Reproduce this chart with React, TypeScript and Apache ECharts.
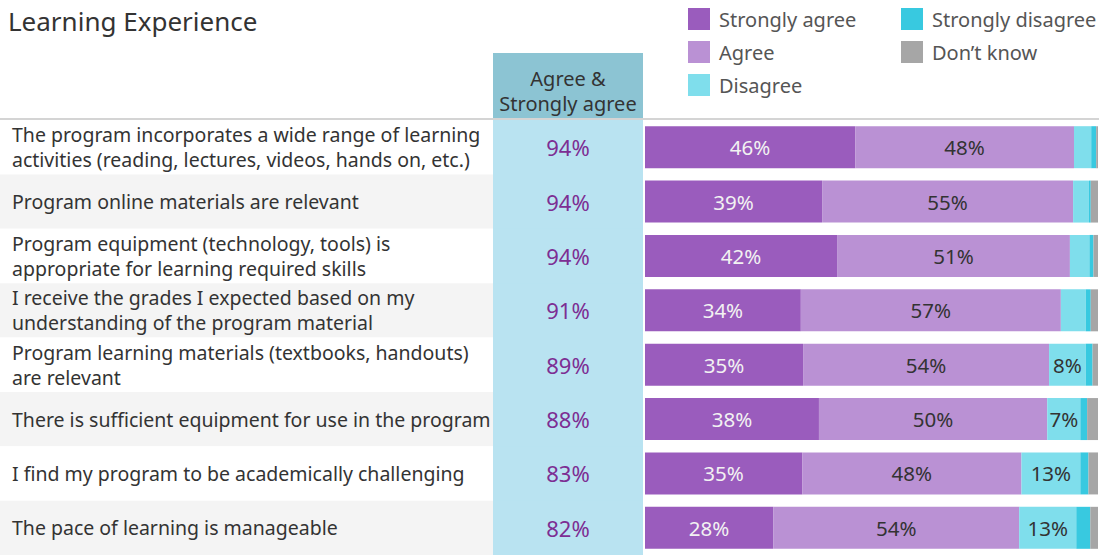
import React, { useEffect, useRef } from "react";
import * as echarts from "echarts";

const questions = [
  "The program incorporates a wide range of learning\nactivities (reading, lectures, videos, hands on, etc.)",
  "Program online materials are relevant",
  "Program equipment (technology, tools) is\nappropriate for learning required skills",
  "I receive the grades I expected based on my\nunderstanding of the program material",
  "Program learning materials (textbooks, handouts)\nare relevant",
  "There is sufficient equipment for use in the program",
  "I find my program to be academically challenging",
  "The pace of learning is manageable",
];

const agreeTotal = [94, 94, 94, 91, 89, 88, 83, 82];

const stronglyAgree = [46.4, 39.1, 42.4, 34.4, 34.9, 38.4, 34.7, 28.3];
const agree = [48.3, 55.4, 51.4, 57.4, 54.3, 50.4, 48.4, 54.3];
const disagree = [3.8, 3.5, 4.3, 5.5, 8.1, 7.3, 13.0, 12.6];
const stronglyDisagree = [1.1, 0.4, 0.9, 1.1, 1.5, 1.5, 1.8, 3.1];
const dontKnow = [0.4, 1.6, 1.0, 1.6, 1.2, 2.4, 2.1, 1.7];

const seriesNames = ["Strongly agree", "Agree", "Disagree", "Strongly disagree", "Don\u2019t know"];
const seriesColors = ["#9a5cbd", "#ba91d4", "#7fdeec", "#38c9e0", "#a6a6a6"];
const seriesData = [stronglyAgree, agree, disagree, stronglyDisagree, dontKnow];
const labelColors = ["#f2f2f2", "#333333", "#333333", "#333333", "#333333"];
const labelMin = [0, 0, 6, 100, 100];

const FONT = "Noto Sans";

export default function App() {
  const ref = useRef<HTMLDivElement>(null);
  useEffect(() => {
    document.body.style.margin = "0";
    if (!ref.current) return;
    const chart = echarts.init(ref.current, undefined, { renderer: "svg" });
    const top = 120;
    const height = 435;
    const catAxis = (gridIndex: number, extra: any = {}) => ({
      type: "category",
      gridIndex,
      data: questions,
      inverse: true,
      axisLine: { show: false },
      axisTick: { show: false },
      axisLabel: { show: false },
      ...extra,
    });
    const valAxis = (gridIndex: number, max: number) => ({
      type: "value",
      gridIndex,
      min: 0,
      max,
      show: false,
    });
    const legendText = { fontFamily: FONT, fontSize: 20, color: "#555555", padding: [0, 0, 0, 4] };
    chart.setOption({
      animation: false,
      backgroundColor: "#ffffff",
      textStyle: { fontFamily: FONT },
      title: {
        text: "Learning Experience",
        left: 8,
        top: 6,
        padding: 0,
        textStyle: { fontFamily: FONT, fontSize: 26, fontWeight: "normal", color: "#333333", lineHeight: 30 },
      },
      legend: [
        {
          data: seriesNames.slice(0, 3),
          left: 688,
          top: 8,
          orient: "vertical",
          itemWidth: 22,
          itemHeight: 22,
          itemGap: 11,
          padding: 0,
          icon: "rect",
          selectedMode: false,
          textStyle: legendText,
        },
        {
          data: seriesNames.slice(3),
          left: 901,
          top: 8,
          orient: "vertical",
          itemWidth: 22,
          itemHeight: 22,
          itemGap: 11,
          padding: 0,
          icon: "rect",
          selectedMode: false,
          textStyle: legendText,
        },
      ],
      grid: [
        { left: 0, top, width: 493, height, containLabel: false },
        { left: 493, top, width: 150, height, show: true, backgroundColor: "#b9e3f1", borderWidth: 0 },
        { left: 645, top, width: 453, height },
      ],
      xAxis: [valAxis(0, 1), valAxis(1, 1), valAxis(2, 100)],
      yAxis: [
        catAxis(0, {
          axisLabel: {
            show: true,
            inside: true,
            margin: 12,
            align: "left",
            fontFamily: FONT,
            fontSize: 19.5,
            lineHeight: 25,
            color: "#333333",
          },
          splitArea: { show: true, areaStyle: { color: ["#ffffff", "#f4f4f4"] } },
        }),
        catAxis(1),
        catAxis(2),
      ],
      graphic: [
        {
          type: "rect",
          shape: { x: 493, y: 53, width: 150, height: 66 },
          style: { fill: "#8cc4d3" },
          z: 10,
        },
        {
          type: "text",
          x: 568,
          y: 91,
          style: {
            text: "Agree &\nStrongly agree",
            fontFamily: FONT,
            fontSize: 20,
            lineHeight: 25,
            fill: "#333333",
            align: "center",
            verticalAlign: "middle",
          },
          z: 11,
        },
        {
          type: "line",
          shape: { x1: 0, y1: 119, x2: 1099, y2: 119 },
          style: { stroke: "#d4d4d4", lineWidth: 2 },
          z: 12,
        },
      ],
      series: [
        {
          type: "bar",
          xAxisIndex: 1,
          yAxisIndex: 1,
          data: agreeTotal.map(() => 1),
          barCategoryGap: "0%",
          itemStyle: { color: "#b9e3f1" },
          silent: true,
          label: {
            show: true,
            position: "inside",
            formatter: (p: any) => agreeTotal[p.dataIndex] + "%",
            fontFamily: FONT,
            fontSize: 22,
            color: "#7d2e93",
          },
        },
        ...seriesData.map((d, i) => ({
          type: "bar",
          name: seriesNames[i],
          xAxisIndex: 2,
          yAxisIndex: 2,
          stack: "total",
          data: d,
          barWidth: 42,
          itemStyle: { color: seriesColors[i] },
          label: {
            show: true,
            position: "inside",
            formatter: (p: any) => (p.value >= labelMin[i] ? Math.round(p.value) + "%" : ""),
            fontFamily: FONT,
            fontSize: 20.5,
            color: labelColors[i],
          },
        })),
      ],
    });
    return () => chart.dispose();
  }, []);
  return <div ref={ref} style={{ width: 1099, height: 555 }} />;
}
